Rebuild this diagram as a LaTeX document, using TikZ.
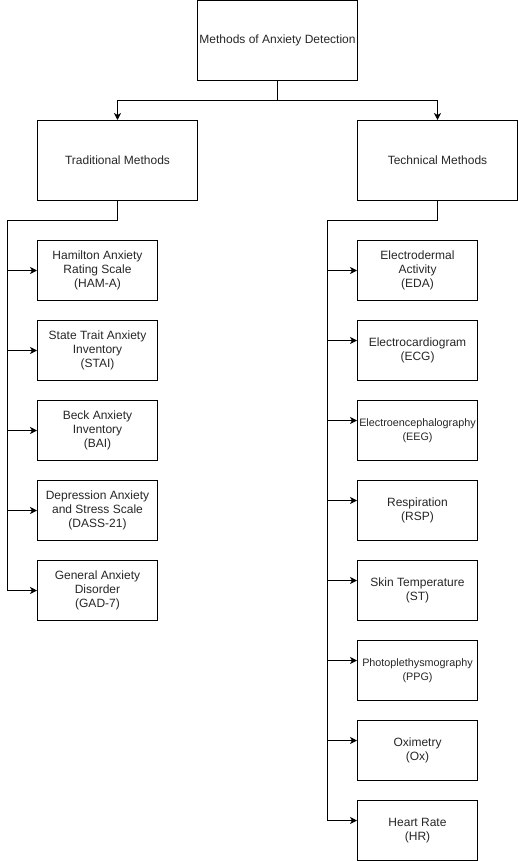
\documentclass[tikz,border=0pt]{standalone}
\usepackage{fontspec}
\setmainfont{Liberation Sans}
\usetikzlibrary{arrows.meta}
\begin{document}
\begin{tikzpicture}[x=1pt,y=-1pt,
  box/.style={draw=black,line width=1pt,inner sep=0pt,align=center,
    font=\fontsize{12}{14.3}\selectfont,text=black!85},
  bigbox/.style={box,minimum width=160pt,minimum height=80pt},
  smallbox/.style={box,minimum width=120pt,minimum height=60pt},
  narrowtext/.style={font=\fontsize{10.8}{14.3}\selectfont},
  conn/.style={line width=1pt,draw=black},
  arr/.style={conn,-{Stealth[length=7pt,width=7pt,inset=2pt]}}]
\useasboundingbox (0,0) rectangle (518,861);
% top level
\node[bigbox] (root) at (277.5,40.5) {Methods of Anxiety Detection};
\node[bigbox] (trad) at (117.5,160.5) {Traditional Methods};
\node[bigbox] (tech) at (437.5,160.5) {Technical Methods};
% left children
\node[smallbox] (ham) at (97.5,270.5) {Hamilton Anxiety\\Rating Scale\\(HAM-A)};
\node[smallbox] (stai) at (97.5,350.5) {State Trait Anxiety\\Inventory\\(STAI)};
\node[smallbox] (bai) at (97.5,430.5) {Beck Anxiety\\Inventory\\(BAI)};
\node[smallbox] (dass) at (97.5,510.5) {Depression Anxiety\\and Stress Scale\\(DASS-21)};
\node[smallbox] (gad) at (97.5,590.5) {General Anxiety\\Disorder\\(GAD-7)};
% right children
\node[smallbox] (eda) at (417.5,270.5) {Electrodermal\\Activity\\(EDA)};
\node[smallbox] (ecg) at (417.5,350.5) {Electrocardiogram\\(ECG)};
\node[smallbox,narrowtext] (eeg) at (417.5,430.5) {Electroencephalography\\(EEG)};
\node[smallbox] (rsp) at (417.5,510.5) {Respiration\\(RSP)};
\node[smallbox] (st) at (417.5,590.5) {Skin Temperature\\(ST)};
\node[smallbox,narrowtext] (ppg) at (417.5,670.5) {Photoplethysmography\\(PPG)};
\node[smallbox] (ox) at (417.5,750.5) {Oximetry\\(Ox)};
\node[smallbox] (hr) at (417.5,830.5) {Heart Rate\\(HR)};
% connectors from root
\coordinate (rj) at (277.5,100.5);
\draw[conn] (root.south) -- (rj);
\draw[arr] (rj) -| (trad.north);
\draw[arr] (rj) -| (tech.north);
% left trunk
\coordinate (lj) at (7.5,220.5);
\draw[conn] (trad.south) |- (lj) -- (7.5,590.5);
\foreach \n/\y in {ham/270.5,stai/350.5,bai/430.5,dass/510.5,gad/590.5}{
  \coordinate (l\n) at (7.5,\y);
  \draw[arr] (l\n) -- (\n.west |- l\n);
}
% right trunk
\coordinate (tj) at (327.5,220.5);
\draw[conn] (tech.south) |- (tj) -- (327.5,820.5);
\foreach \n/\y in {eda/270.5,ecg/340.5,eeg/420.5,rsp/500.5,st/580.5,ppg/660.5,ox/740.5,hr/820.5}{
  \coordinate (r\n) at (327.5,\y);
  \draw[arr] (r\n) -- (\n.west |- r\n);
}
\end{tikzpicture}
\end{document}
